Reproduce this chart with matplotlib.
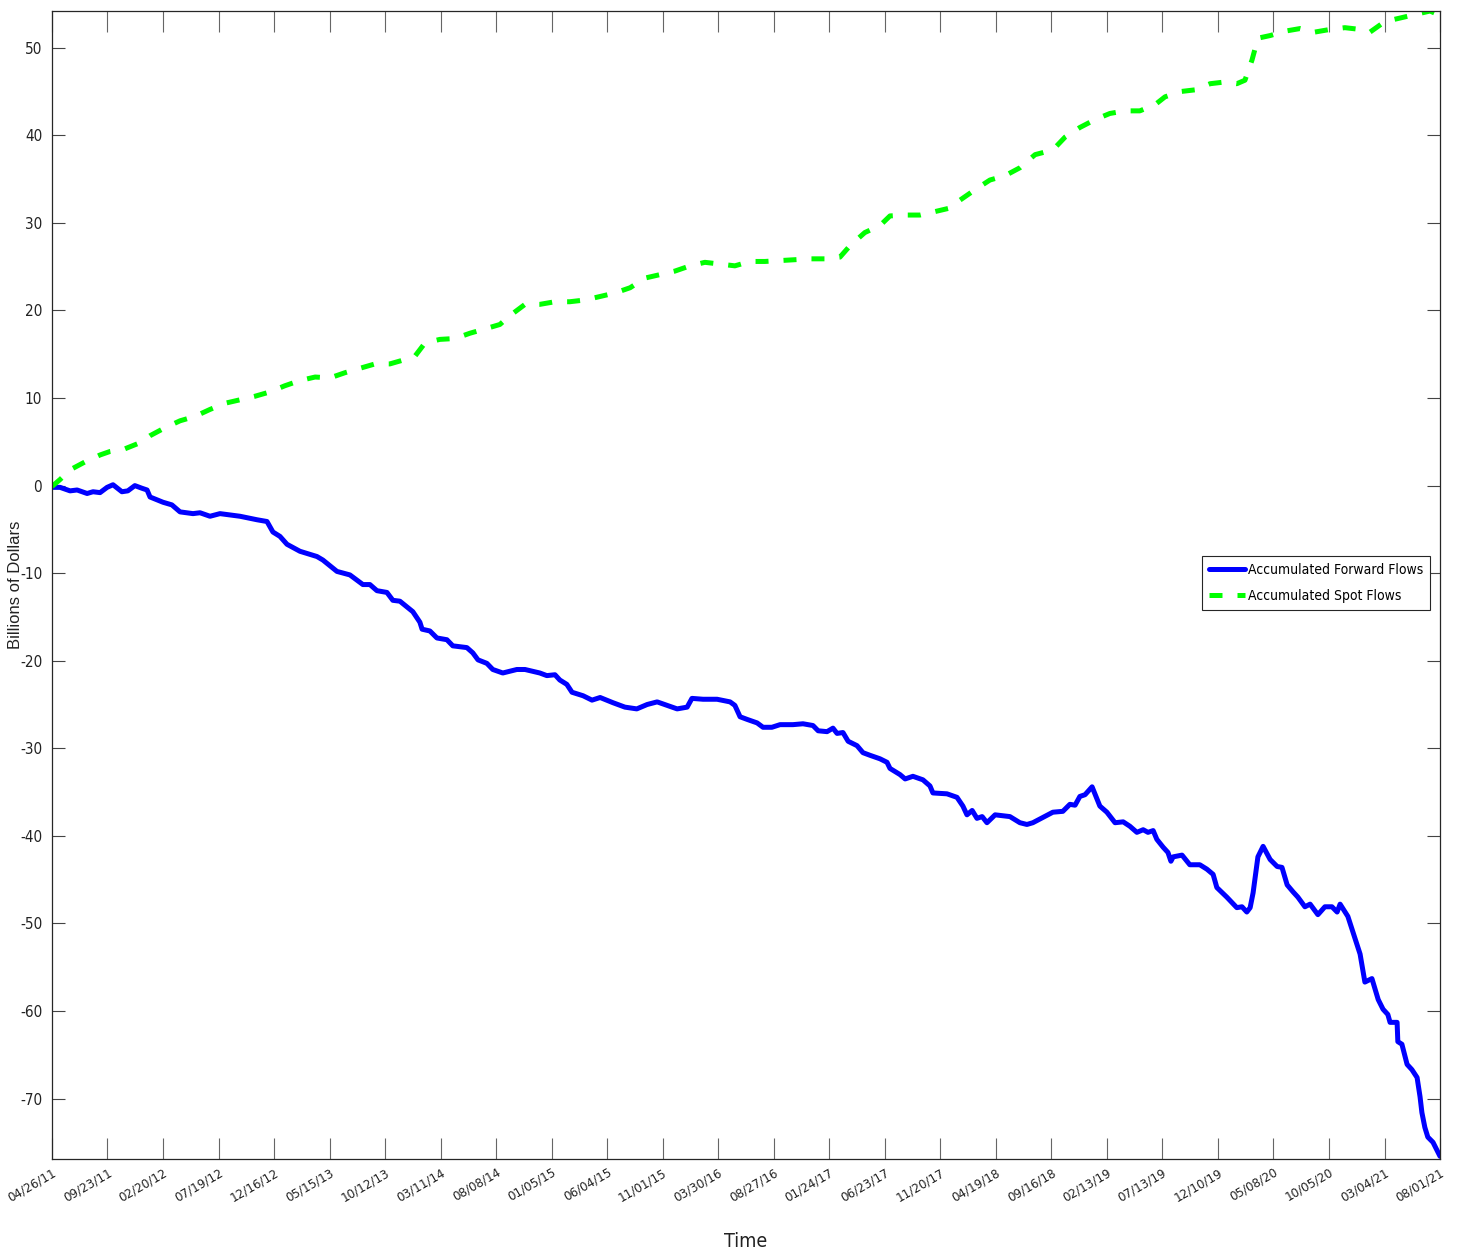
import datetime as dt
import matplotlib
matplotlib.use("Agg")
import matplotlib.pyplot as plt
import matplotlib.dates as mdates
import matplotlib.transforms as mtransforms

plt.rcParams['axes.unicode_minus'] = False
narrow = dict(family='DejaVu Sans', stretch='condensed')

start = dt.date(2011, 4, 26)

# accumulated forward flows: days since 04/26/11, billions of dollars
fwd_day = [0, 22, 49, 68, 95, 111, 130, 149, 165, 189, 205, 224, 243, 257, 265,
           300, 324, 346, 381, 400, 427, 454, 508, 554, 581, 597, 616, 635, 670,
           716, 732, 770, 805, 840, 859, 878, 905, 921,
           940, 975, 994, 1000, 1021, 1040, 1067, 1083, 1121, 1137, 1151, 1175,
           1191, 1218, 1256, 1278, 1318, 1337, 1359, 1372, 1391, 1405, 1435, 1459,
           1481, 1516, 1548, 1580, 1608, 1635, 1662, 1689, 1716, 1729, 1759, 1797,
           1832, 1845, 1859, 1878, 1905, 1921, 1945, 1967, 2002, 2029, 2056, 2070,
           2094, 2110, 2121, 2137, 2151, 2175, 2191, 2210, 2237, 2256, 2264, 2291,
           2305, 2326, 2353, 2372, 2380, 2418, 2445, 2461, 2472, 2486, 2499, 2513,
           2526, 2548, 2569, 2588, 2615, 2634, 2650, 2677, 2704, 2731, 2750, 2764,
           2777, 2791, 2810, 2831,
           2850, 2872, 2894, 2912, 2931, 2948, 2961, 2975, 2985, 3002, 3015, 3023,
           3029, 3053, 3074, 3101, 3120, 3137, 3147, 3174, 3201, 3215, 3228, 3237,
           3245, 3258, 3272, 3291, 3310, 3323, 3337, 3353, 3366, 3385, 3399, 3420,
           3439, 3458, 3472, 3480, 3501,
           3534, 3547, 3566, 3583, 3596, 3609, 3615, 3634, 3636, 3647, 3661, 3674,
           3688, 3696, 3701, 3709, 3717, 3731, 3737, 3750]
fwd_val = [-0.2, -0.2, -0.6, -0.5, -0.9, -0.7, -0.8, -0.2, 0.1, -0.7, -0.6, 0.0,
           -0.3, -0.5, -1.3, -1.9, -2.2, -3.0, -3.2, -3.1, -3.5, -3.2, -3.5, -3.9,
           -4.1, -5.3, -5.8, -6.7, -7.5, -8.1, -8.5, -9.8, -10.2, -11.3, -11.3,
           -12.0, -12.2, -13.1,
           -13.2, -14.4, -15.6, -16.4, -16.6, -17.4, -17.6, -18.3, -18.5, -19.1,
           -19.9, -20.3, -21.0, -21.4, -21.0, -21.0, -21.4, -21.7, -21.6, -22.2,
           -22.7, -23.6, -24.0, -24.5, -24.2, -24.8, -25.3, -25.5, -25.0, -24.7,
           -25.1, -25.5, -25.3, -24.3, -24.4, -24.4,
           -24.7, -25.1, -26.4, -26.7, -27.1, -27.6, -27.6, -27.3, -27.3, -27.2,
           -27.4, -28.0, -28.1, -27.7, -28.3, -28.2, -29.2, -29.7, -30.5, -30.8,
           -31.2, -31.6, -32.3, -33.0, -33.5, -33.2, -33.6, -34.3, -35.1, -35.2,
           -35.6, -36.6, -37.6, -37.1, -38.0, -37.8, -38.5, -37.6, -37.7, -37.8,
           -38.5, -38.7, -38.5, -37.9, -37.3, -37.2, -36.4, -36.5, -35.5, -35.3,
           -34.4, -36.6,
           -37.3, -38.5, -38.4, -38.9, -39.6, -39.3, -39.6, -39.4, -40.4, -41.3,
           -41.9, -42.9, -42.4, -42.2, -43.3, -43.3, -43.8, -44.4, -45.9, -47.0,
           -48.2, -48.1, -48.7, -48.2, -46.5, -42.4, -41.2, -42.7, -43.5, -43.6,
           -45.6, -46.4, -47.0, -48.1, -47.8, -49.0, -48.1, -48.1, -48.7, -47.8,
           -49.2,
           -53.5, -56.7, -56.3, -58.7, -59.8, -60.4, -61.3, -61.3, -63.5, -63.8,
           -66.1, -66.7, -67.6, -69.8, -71.6, -73.3, -74.4, -75.0, -75.5, -76.6]

# accumulated spot flows
spot_day = [0, 22, 49, 89, 130, 157, 197, 238, 265, 305, 346, 386, 427, 467, 508,
            548, 589, 629, 670, 711, 751, 792, 832, 873, 913, 954, 981, 1008, 1048,
            1089, 1129, 1170, 1210, 1237, 1278, 1318, 1359, 1399, 1440, 1481, 1521,
            1562, 1602, 1643, 1683, 1724, 1764, 1805, 1845, 1886, 1926, 1967, 2007,
            2048, 2088, 2129, 2156, 2196, 2237, 2264, 2305, 2345, 2386, 2426, 2453,
            2494, 2534, 2575, 2615, 2656, 2683, 2710, 2737, 2777, 2818, 2858, 2899,
            2939, 2980, 3007, 3048, 3088, 3129, 3169, 3201, 3223, 3242, 3258, 3291,
            3331, 3372, 3412, 3453, 3493, 3534, 3561, 3601, 3642, 3682, 3723, 3750]
spot_val = [-0.1, 0.7, 1.8, 2.7, 3.5, 3.9, 4.2, 4.9, 5.7, 6.6, 7.4, 7.9, 8.7, 9.4,
            9.8, 10.2, 10.7, 11.4, 12.0, 12.4, 12.3, 12.9, 13.4, 13.9, 13.9, 14.4,
            14.8, 16.3, 16.7, 16.8, 17.4, 17.9, 18.4, 19.4, 20.7, 20.7, 21.0, 21.0,
            21.2, 21.6, 22.0, 22.6, 23.7, 24.1, 24.5, 25.1, 25.5, 25.3, 25.1, 25.6,
            25.6, 25.7, 25.8, 25.9, 25.9, 26.1, 27.4, 28.9, 29.7, 30.8, 30.9, 30.9,
            31.3, 31.7, 32.6, 33.8, 34.9, 35.4, 36.3, 37.8, 38.1, 38.6, 39.8, 40.9,
            41.8, 42.5, 42.8, 42.8, 43.5, 44.4, 45.0, 45.2, 45.9, 46.1, 45.9, 46.3,
            48.6, 51.1, 51.4, 51.9, 52.2, 51.8, 52.1, 52.3, 52.1, 51.8, 53.0, 53.4,
            53.8, 54.2, 53.7]

tick_step = 150
n_ticks = 26

fwd_dates = [start + dt.timedelta(days=d) for d in fwd_day]
spot_dates = [start + dt.timedelta(days=d) for d in spot_day]
tick_dates = [start + dt.timedelta(days=tick_step * i) for i in range(n_ticks)]

fig = plt.figure(figsize=(14.59, 12.54), dpi=100)
ax = fig.add_axes([0.0356, 0.0758, 0.9514, 0.9154])

ax.plot(fwd_dates, fwd_val, color='#0000ff', lw=3.6, solid_joinstyle='round',
        solid_capstyle='round', label='Accumulated Forward Flows')
ax.plot(spot_dates, spot_val, color='#00ff00', lw=3.6, linestyle=(0, (2.6, 3.0)),
        label='Accumulated Spot Flows')

ax.set_xlim(tick_dates[0], tick_dates[-1])
ax.set_ylim(-76.9, 54.2)
ax.set_yticks(range(-70, 51, 10))
ax.set_xticks(tick_dates)
ax.xaxis.set_major_formatter(mdates.DateFormatter('%m/%d/%y'))

shift = mtransforms.ScaledTranslation(6 / 100, 0, fig.dpi_scale_trans)
for lab in ax.get_xticklabels():
    lab.set_rotation(30)
    lab.set_ha('right')
    lab.set_rotation_mode('anchor')
    lab.set_fontproperties(narrow)
    lab.set_fontsize(9.5)
    lab.set_transform(lab.get_transform() + shift)
for lab in ax.get_yticklabels():
    lab.set_fontproperties(narrow)
    lab.set_fontsize(11)

ax.tick_params(axis='x', direction='in', length=15, width=0.8, color='#666666',
               top=True, pad=5, labelcolor='#222222')
ax.tick_params(axis='y', direction='in', length=9.5, width=0.8, color='#444444',
               right=True, pad=7, labelcolor='#222222')
for sp in ax.spines.values():
    sp.set_color('#262626')
    sp.set_linewidth(0.9)

ax.set_xlabel('Time', fontsize=14, color='#222222', **narrow)
ax.xaxis.set_label_coords(0.5, -0.064)
ax.set_ylabel('Billions of Dollars', family='Liberation Sans', fontsize=12,
              color='#222222', va='center')
ax.yaxis.set_label_coords(-0.0265, 0.5)

leg = ax.legend(loc='upper right', bbox_to_anchor=(0.993, 0.525),
                prop=dict(narrow, size=10), handlelength=2.6,
                fancybox=False, framealpha=1, edgecolor='#262626',
                borderpad=0.5, labelspacing=0.85, handletextpad=0.2,
                borderaxespad=0)
leg.get_frame().set_linewidth(0.8)

fig.savefig('out.png', dpi=100)
